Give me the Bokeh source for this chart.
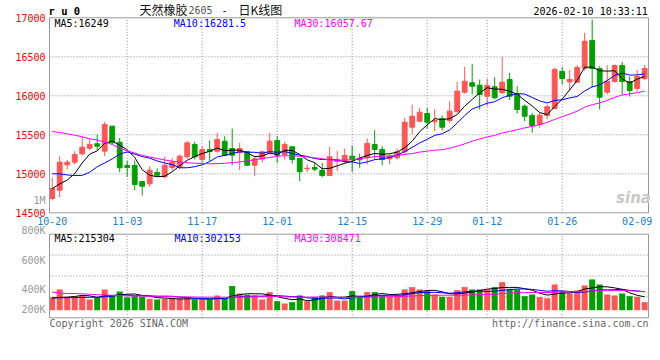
from bokeh.plotting import figure
from bokeh.models import Label, Range1d, ColumnDataSource
from bokeh.core.properties import value
from bokeh.embed import file_html
from bokeh.resources import INLINE

# ---------------- data ----------------
opens = [14683, 14790, 15115, 15149, 15256, 15328, 15385, 15290, 15610, 15405,
         15106, 15106, 14901, 14872, 15017, 14962, 15080, 15085, 15218, 15376,
         15183, 15311, 15290, 15418, 15324, 15269, 15282, 15110, 15190, 15269,
         15427, 15247, 15346, 15196, 15064, 15081, 15042, 14978, 15158, 15162,
         15226, 15192, 15205, 15376, 15312, 15192, 15205, 15282, 15597, 15674,
         15773, 15667, 15709, 15683, 15795, 16046, 16167, 16136, 15995, 16115,
         16038, 16209, 16017, 15867, 15747, 15632, 15747, 15837, 16312, 16177,
         16174, 16354, 16709, 16350, 16046, 16183, 16388, 16183, 16094, 16222]
highs = [14946, 15226, 15179, 15290, 15474, 15453, 15504, 15667, 15615, 15461,
         15170, 15170, 14905, 15097, 15068, 15215, 15200, 15247, 15418, 15410,
         15354, 15427, 15526, 15482, 15581, 15397, 15290, 15226, 15299, 15526,
         15482, 15410, 15350, 15200, 15119, 15141, 15141, 15346, 15290, 15324,
         15363, 15260, 15455, 15559, 15354, 15247, 15324, 15718, 15888, 15846,
         15846, 15824, 15747, 15931, 16180, 16372, 16410, 16209, 16218, 16238,
         16500, 16295, 16123, 15888, 15782, 15782, 15888, 16359, 16369, 16331,
         16395, 16808, 16978, 16379, 16392, 16401, 16433, 16247, 16331, 16395]
lows = [14658, 14700, 15055, 15119, 15235, 15303, 15299, 15226, 15376, 15020,
        14961, 14790, 14722, 14833, 14972, 14940, 15040, 15055, 15192, 15183,
        15141, 15162, 15269, 15226, 15110, 15046, 15097, 14969, 15145, 15247,
        15141, 15183, 15132, 14905, 15021, 15033, 14956, 14969, 15033, 15132,
        15021, 15077, 15120, 15192, 15110, 15119, 15183, 15247, 15504, 15667,
        15577, 15546, 15555, 15654, 15786, 16026, 16017, 15824, 15867, 15953,
        16029, 15944, 15773, 15674, 15526, 15590, 15705, 15824, 16145, 16074,
        16167, 16324, 16106, 15824, 16017, 16167, 16017, 15991, 16055, 16203]
closes = [14812, 15149, 15149, 15247, 15341, 15376, 15354, 15632, 15397, 15077,
          15081, 14863, 14841, 15046, 14982, 15110, 15150, 15226, 15397, 15218,
          15311, 15286, 15440, 15235, 15238, 15324, 15110, 15192, 15282, 15418,
          15238, 15376, 15183, 15026, 15072, 15059, 14978, 15218, 15183, 15235,
          15192, 15179, 15388, 15312, 15183, 15226, 15282, 15662, 15738, 15790,
          15662, 15683, 15597, 15803, 16059, 16187, 16123, 16017, 16132, 15974,
          16174, 15995, 15824, 15738, 15619, 15751, 15859, 16337, 16222, 16209,
          16363, 16700, 16350, 15982, 16187, 16388, 16183, 16068, 16247, 16350]
volumes = [214500, 341000, 203500, 220000, 242000, 176000, 203500, 341000, 242000, 308000,
           214500, 231000, 220000, 187000, 176000, 187000, 187000, 187000, 198000, 176000,
           176000, 176000, 242000, 187000, 396000, 275000, 253000, 242000, 176000, 297000,
           148500, 110000, 132000, 242000, 148500, 214500, 242000, 297000, 159500, 159500,
           313500, 220000, 297000, 297000, 242000, 231000, 242000, 341000, 379500, 341000,
           313500, 258500, 220000, 220000, 330000, 379500, 341000, 341000, 341000, 379500,
           462000, 352000, 341000, 231000, 258500, 214500, 198000, 423500, 313500, 275000,
           324500, 407000, 506000, 423500, 258500, 242000, 275000, 231000, 220000, 132000]

# moving-average values visible before enough history exists
ma5_lead = [14810, 14870, 14920, 15000]
ma10_lead = [15000, 15000, 14985, 14978, 14980, 15020, 15090, 15140, 15190]
ma30_lead = [15542, 15529, 15513, 15495, 15474, 15449, 15431, 15408, 15376, 15331,
             15292, 15267, 15235, 15215, 15196, 15177, 15162, 15151, 15141, 15136,
             15132, 15128, 15130, 15135, 15142, 15152, 15165, 15180, 15195]
vma5_lead = [200000, 210000, 215000, 225000]
vma10_lead = [205000, 205000, 206000, 208000, 210000, 212000, 215000, 220000, 228000]
vma30_lead = [297000, 285000, 275000, 275000, 270000, 262000, 255000, 250000, 245000, 240000,
              236000, 235000, 233000, 230000, 228000, 225000, 222000, 220000, 218000, 216000,
              214000, 213000, 212000, 212000, 214000, 216000, 218000, 220000, 221000]

tick_idx = [0, 10, 20, 30, 40, 50, 58, 68, 78]
tick_labels = ["10-20", "11-03", "11-17", "12-01", "12-15", "12-29", "01-12", "01-26", "02-09"]
price_ticks = [14500, 15000, 15500, 16000, 16500, 17000]
vol_tick_labels = ["800K", "600K", "400K", "200K"]

title_name = "天然橡胶"
title_code = "2605"
title_kind = "日K线图"
symbol = "r u 0"
timestamp = "2026-02-10 10:33:11"
ma_texts = ["MA5:16249", "MA10:16281.5", "MA30:16057.67"]
vma_texts = ["MA5:215304", "MA10:302153", "MA30:308471"]
copyright_text = "Copyright 2026 SINA.COM"
url_text = "http://finance.sina.com.cn"

# ---------------- styling / geometry ----------------
RED = "#ff5555"
GREEN = "#00a000"
MA_COLORS = ["#000000", "#0000ff", "#ff00ff"]
MONO = "DejaVu Sans Mono"
CJK = "Noto Sans CJK SC"
GRID = "#8c8c8c"
FRAME = "#999999"

W, H = 652, 352          # canvas size
OX, OY = 1, 1            # where the canvas lands in the screenshot
MAIN_L, MAIN_R = 50, 649  # panel edges (screenshot px)
MAIN_T, MAIN_B = 18.3, 213.3
VOL_T, VOL_B, VOL_ZERO = 234.7, 318.3, 310.7
IDX_L, IDX_R = -0.36, 79.51
P_LO, P_HI = price_ticks[0], price_ticks[-1]
V_HI = 1250000

kx = (IDX_R - IDX_L) / (MAIN_R - MAIN_L)
ky = (P_HI - P_LO) / (MAIN_B - MAIN_T)
kv = V_HI / (VOL_ZERO - VOL_T)
V_LO = -(VOL_B - VOL_ZERO) * kv

x_range = Range1d(IDX_L + (OX - MAIN_L) * kx, IDX_L + (OX + W - MAIN_L) * kx)
y_range = Range1d(P_LO - (OY + H - MAIN_B) * ky, P_HI + (MAIN_T - OY) * ky)
v_range = Range1d(-(OY + H - VOL_ZERO) * kv, V_HI + (VOL_T - OY) * kv)


def rolling(vals, n, lead):
    out = list(lead)
    for i in range(len(lead), len(vals)):
        out.append(sum(vals[i - n + 1:i + 1]) / n)
    return out


n = len(closes)
xs = list(range(n))
colors = [RED if c >= o else GREEN for o, c in zip(opens, closes)]

src = ColumnDataSource(dict(
    x=xs,
    top=[max(o, c) for o, c in zip(opens, closes)],
    bottom=[min(o, c) for o, c in zip(opens, closes)],
    high=highs, low=lows, color=colors, vol=volumes,
))

p = figure(width=W, height=H, x_range=x_range, y_range=y_range, title=None,
           output_backend="svg", toolbar_location=None, min_border=0,
           x_axis_location=None, y_axis_location=None)
p.extra_y_ranges = {"vol": v_range}
p.grid.visible = False
p.outline_line_color = None
p.background_fill_color = "white"
p.border_fill_color = "white"

# ---- grids ----
gx = tick_idx[1:-1]
inner_p = price_ticks[1:-1]
vol_grid = [V_LO + k * (V_HI - V_LO) / 4 for k in (1, 2, 3)]
gstyle = dict(line_color=GRID, line_dash="1 2", line_width=1)
p.segment(x0=gx, y0=[P_LO] * len(gx), x1=gx, y1=[P_HI] * len(gx), **gstyle)
p.segment(x0=[IDX_L] * len(inner_p), y0=inner_p, x1=[IDX_R] * len(inner_p), y1=inner_p, **gstyle)
p.segment(x0=gx, y0=[V_LO] * len(gx), x1=gx, y1=[V_HI] * len(gx), y_range_name="vol", **gstyle)
p.segment(x0=[IDX_L] * 3, y0=vol_grid, x1=[IDX_R] * 3, y1=vol_grid, y_range_name="vol", **gstyle)

# ---- candles ----
p.segment(x0="x", y0="low", x1="x", y1="high", color="color", line_width=1, source=src)
p.vbar(x="x", top="top", bottom="bottom", width=0.64, fill_color="color",
       line_color="color", line_width=1, source=src)
for nper, lead, col in ((5, ma5_lead, MA_COLORS[0]), (10, ma10_lead, MA_COLORS[1]),
                        (30, ma30_lead, MA_COLORS[2])):
    p.line(xs, rolling(closes, nper, lead), line_color=col, line_width=1)

# ---- volume ----
p.vbar(x="x", top="vol", bottom=0, width=0.8, fill_color="color", line_color=None,
       source=src, y_range_name="vol")
for nper, lead, col in ((5, vma5_lead, MA_COLORS[0]), (10, vma10_lead, MA_COLORS[1]),
                        (30, vma30_lead, MA_COLORS[2])):
    p.line(xs, rolling(volumes, nper, lead), line_color=col, line_width=1, y_range_name="vol")

# ---- panel frames ----
p.quad(left=[IDX_L], right=[IDX_R], bottom=[P_LO], top=[P_HI], fill_color=None,
       line_color=FRAME, line_width=1)
p.quad(left=[IDX_L], right=[IDX_R], bottom=[V_LO], top=[V_HI], fill_color=None,
       line_color=FRAME, line_width=1, y_range_name="vol")

# ---- axis labels ----
p.text(x=[IDX_L] * len(price_ticks), y=price_ticks, text=[str(t) for t in price_ticks],
       x_offset=-4, text_align="right", text_baseline="middle", text_color="#ff0000",
       text_font=value(MONO), text_font_size="10px")
p.text(x=tick_idx, y=[P_LO] * len(tick_idx), text=tick_labels, y_offset=8,
       text_align="center", text_baseline="middle", text_color="#1a80d0",
       text_font=value(MONO), text_font_size="10px")


def lab(ax, ay, text, color="#000000", size="10px", font=MONO, align="left",
        style="normal"):
    """Place a text at screenshot position (ax, ay)."""
    p.add_layout(Label(x=ax - OX, y=H - (ay - OY), x_units="screen", y_units="screen",
                       text=text, text_color=color, text_font_size=size,
                       text_font=font, text_align=align, text_baseline="middle",
                       text_font_style=style))


lab(49, 11.5, symbol, size="10.5px", style="bold")
lab(140, 9.5, title_name, color="#111111", size="12px", font=CJK)
lab(189, 10.3, title_code, color="#555555")
lab(222, 10.3, "-", color="#111111")
lab(239, 9.5, title_kind, color="#111111", size="12px", font=CJK)
lab(648.3, 12, timestamp, align="right")
for x, t, c in zip((55, 174.3, 295), ma_texts, MA_COLORS):
    lab(x, 24, t, color=c)
lab(46, 200.7, "1M", color="#999999", align="right")
lab(634, 198, "sina", color="#c8c8c8", size="15px", font="DejaVu Sans",
    align="center", style="bold italic")
for x, t, c in zip((55, 175, 295), vma_texts, MA_COLORS):
    lab(x, 238.5, t, color=c)
for y, t in zip((230.5, 261.3, 290.3, 310), vol_tick_labels):
    lab(46, y, t, color="#999999", align="right")
lab(50, 323.5, copyright_text, color="#666666")
lab(649, 323.5, url_text, color="#666666", align="right")

open("out.html", "w").write(file_html(p, INLINE))
